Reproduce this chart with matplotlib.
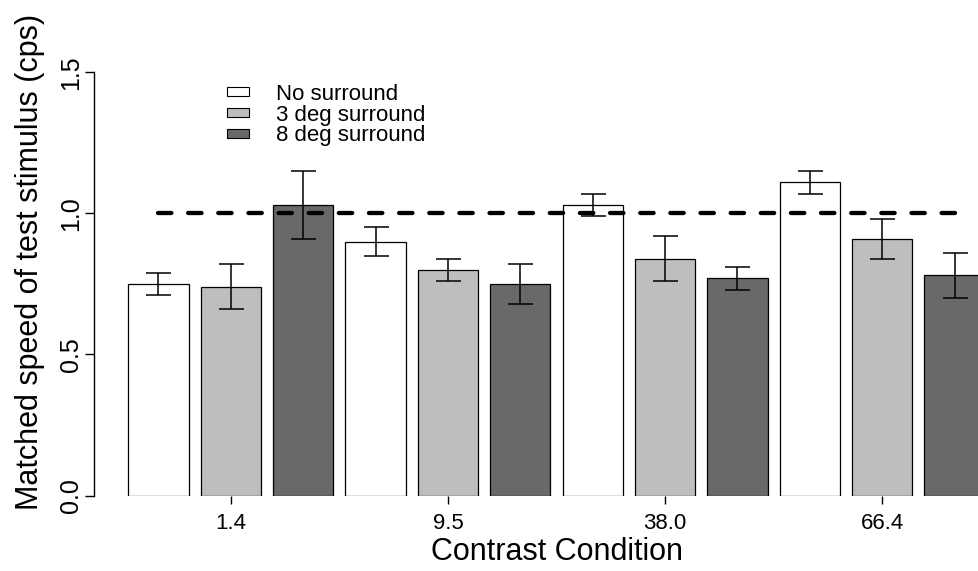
import matplotlib
matplotlib.use("Agg")
import matplotlib.pyplot as plt
from matplotlib.patches import Patch
import numpy as np

plt.rcParams["font.family"] = ["Liberation Sans", "DejaVu Sans"]

# data
contrasts = ["1.4", "9.5", "38.0", "66.4"]
surrounds = ["No surround", "3 deg surround", "8 deg surround"]
fill_colors = ["#ffffff", "#bebebe", "#696969"]

no_surround = [0.75, 0.90, 1.03, 1.11]
no_surround_err = [0.04, 0.05, 0.04, 0.04]
surround_3deg = [0.74, 0.80, 0.84, 0.91]
surround_3deg_err = [0.08, 0.04, 0.08, 0.07]
surround_8deg = [1.03, 0.75, 0.77, 0.78]
surround_8deg_err = [0.12, 0.07, 0.04, 0.08]
reference_speed = 1.0

series = [no_surround, surround_3deg, surround_8deg]
errors = [no_surround_err, surround_3deg_err, surround_8deg_err]

# R barplot layout: width 1, space 0.2, bars ordered by contrast then surround
n_groups = len(contrasts)
n_series = len(series)
bar_w = 1.0
step = 1.2
pos = 0.7 + step * np.arange(n_groups * n_series)
pos = pos.reshape(n_groups, n_series)

W, H = 979, 571
fig = plt.figure(figsize=(W / 100, H / 100), dpi=100)
# plot region runs past the right edge of the figure (cropped like the original)
ax = fig.add_axes([94 / W, (H - 495.5) / H, 925 / W, 423.2 / H])

for k in range(n_series):
    ax.bar(pos[:, k], series[k], width=bar_w, color=fill_colors[k],
           edgecolor="black", linewidth=0.9, zorder=2)
for k in range(n_series):
    ax.errorbar(pos[:, k], series[k], yerr=errors[k], fmt="none", ecolor="black",
                elinewidth=1.1, capsize=9, capthick=1.1, zorder=4)

ax.plot([pos.min(), pos.max()], [reference_speed, reference_speed], color="black",
        linewidth=3.1, dashes=(3.1, 3.9), dash_capstyle="round", zorder=3)

ax.set_xlim(-0.368, 14.968)
ax.set_ylim(0, 1.5)

for side in ["top", "right", "bottom"]:
    ax.spines[side].set_visible(False)
ax.spines["left"].set_linewidth(1.0)
ax.spines["left"].set_bounds(0, 1.5)

yt = [0.0, 0.5, 1.0, 1.5]
ax.set_yticks(yt)
ax.set_yticklabels([f"{v:.1f}" for v in yt], rotation=90, va="center")
ax.tick_params(axis="y", length=6.5, width=1.0, pad=1.5, labelsize=18)

ax.set_xticks(pos[:, 1])
ax.set_xticklabels(contrasts)
ax.tick_params(axis="x", length=6.0, width=1.0, pad=6.5, labelsize=16)

ax.set_ylabel("Matched speed of test stimulus (cps)", fontsize=22)
ax.yaxis.set_label_coords(-0.069, 0.552)
ax.yaxis.label.set_va("center")
ax.set_xlabel("Contrast Condition", fontsize=22)
ax.xaxis.set_label_coords(0.501, -0.1335)
ax.xaxis.label.set_va("center")

handles = [Patch(facecolor=c, edgecolor="black", linewidth=0.8) for c in fill_colors]
ax.legend(handles, surrounds, loc="upper left", frameon=False, fontsize=16,
          bbox_to_anchor=(227 / W, 1 - 83.5 / H), bbox_transform=fig.transFigure,
          borderpad=0, borderaxespad=0, handlelength=1.0, handleheight=0.3,
          handletextpad=1.2, labelspacing=0.0)

fig.savefig("out.png", dpi=100)
